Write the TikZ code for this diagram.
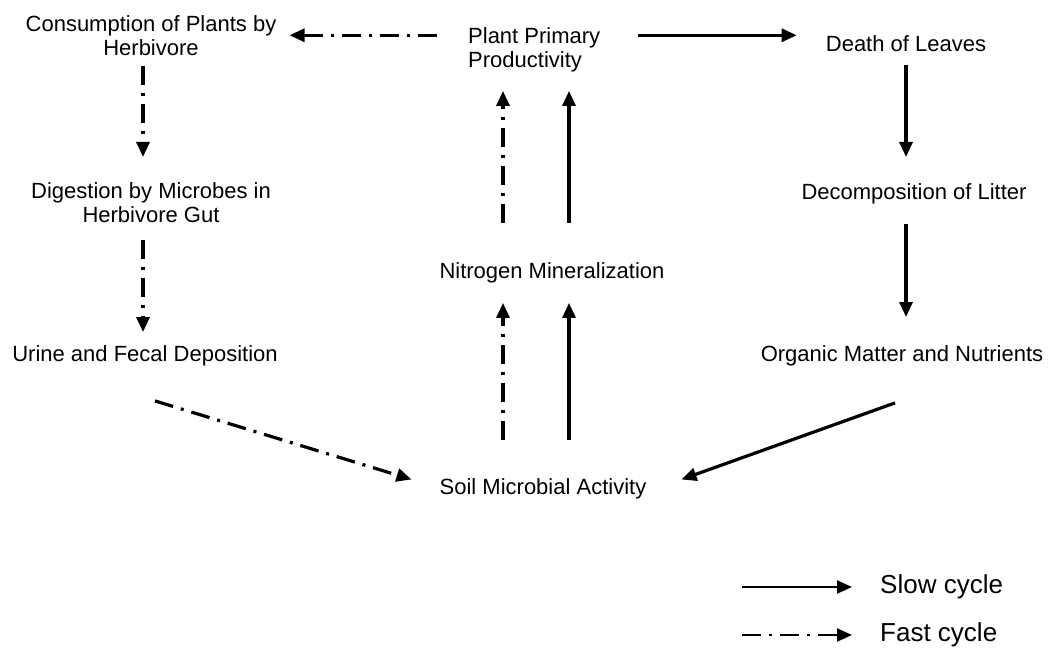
\documentclass[tikz,border=0pt]{standalone}
\usepackage{fontspec}
\setmainfont{Liberation Sans}
\usetikzlibrary{arrows.meta,positioning,calc}

\begin{document}
\begin{tikzpicture}[
    x=1pt, y=-1pt,
    proc/.style={inner sep=0pt, align=center, font=\fontsize{22}{24}\selectfont},
    slow/.style={-{Triangle[length=15pt,width=13pt]}, line width=3.2pt},
    fast/.style={slow, dash pattern=on 19pt off 8pt on 3pt off 8pt},
    legtext/.style={inner sep=0pt, font=\fontsize{26}{28}\selectfont},
    legline/.style={line width=2.4pt}
]
\useasboundingbox (0,0) rectangle (1052,663);

% Processes
\node[proc, anchor=north] (cons) at (151,15) {Consumption of Plants by\\Herbivore};
\node[proc, anchor=north west, align=left] (plant) at (468,27) {Plant Primary\\Productivity};
\node[proc, anchor=north] (death) at (906,35) {Death of Leaves};
\node[proc, anchor=north] (dig) at (151,182) {Digestion by Microbes in\\Herbivore Gut};
\node[proc, anchor=north] (decomp) at (914,183) {Decomposition of Litter};
\node[proc, anchor=north] (nitro) at (552,262) {Nitrogen Mineralization};
\node[proc, anchor=north] (urine) at (145,345) {Urine and Fecal Deposition};
\node[proc, anchor=north] (org) at (902,345) {Organic Matter and Nutrients};
\node[proc, anchor=north] (soil) at (543,478) {Soil Microbial Activity};

% Fast cycle (herbivore path)
\draw[fast] ([xshift=-31pt]plant.west |- cons.east) -- ([xshift=13pt]cons.east);
\draw[fast, shorten <=10pt, shorten >=25pt] ([xshift=-8pt]cons.south) -- ([xshift=-8pt]dig.north);
\draw[fast, shorten <=17pt, shorten >=13pt] ([xshift=-8pt]dig.south) -- ([xshift=-8pt]dig.south |- urine.north);
\draw[fast] ([xshift=10pt,yshift=-35pt]urine.south) -- ([xshift=-28pt,yshift=9pt]soil.west);
\draw[fast, shorten <=38pt, shorten >=20pt] ([xshift=-49pt]nitro.south |- soil.north) -- ([xshift=-49pt]nitro.south);
\draw[fast, shorten <=39pt, shorten >=19pt] ([xshift=-49pt]nitro.north) -- ([xshift=-49pt]nitro.north |- plant.south);

% Slow cycle (litter path)
\draw[slow] ([xshift=38pt]plant.east |- cons.east) -- ([xshift=-29pt]death.west |- cons.east);
\draw[slow, shorten <=13pt, shorten >=26pt] (death.south) -- (death.south |- decomp.north);
\draw[slow, shorten <=20pt, shorten >=28pt] (death.south |- decomp.south) -- (death.south |- org.north);
\draw[slow] ([xshift=-7pt,yshift=-37pt]org.south) -- ([xshift=35pt,yshift=9pt]soil.east);
\draw[slow, shorten <=38pt, shorten >=20pt] ([xshift=17pt]nitro.south |- soil.north) -- ([xshift=17pt]nitro.south);
\draw[slow, shorten <=39pt, shorten >=19pt] ([xshift=17pt]nitro.north) -- ([xshift=17pt]nitro.north |- plant.south);

% Legend
\node[legtext, anchor=west] (slowtxt) at (880,587) {Slow cycle};
\node[legtext, anchor=west] (fasttxt) at (880,635) {Fast cycle};
\draw[slow, legline] ([xshift=-138pt]slowtxt.west) -- ([xshift=-28pt]slowtxt.west);
\draw[fast, legline] ([xshift=-138pt]fasttxt.west) -- ([xshift=-28pt]fasttxt.west);

\end{tikzpicture}
\end{document}
